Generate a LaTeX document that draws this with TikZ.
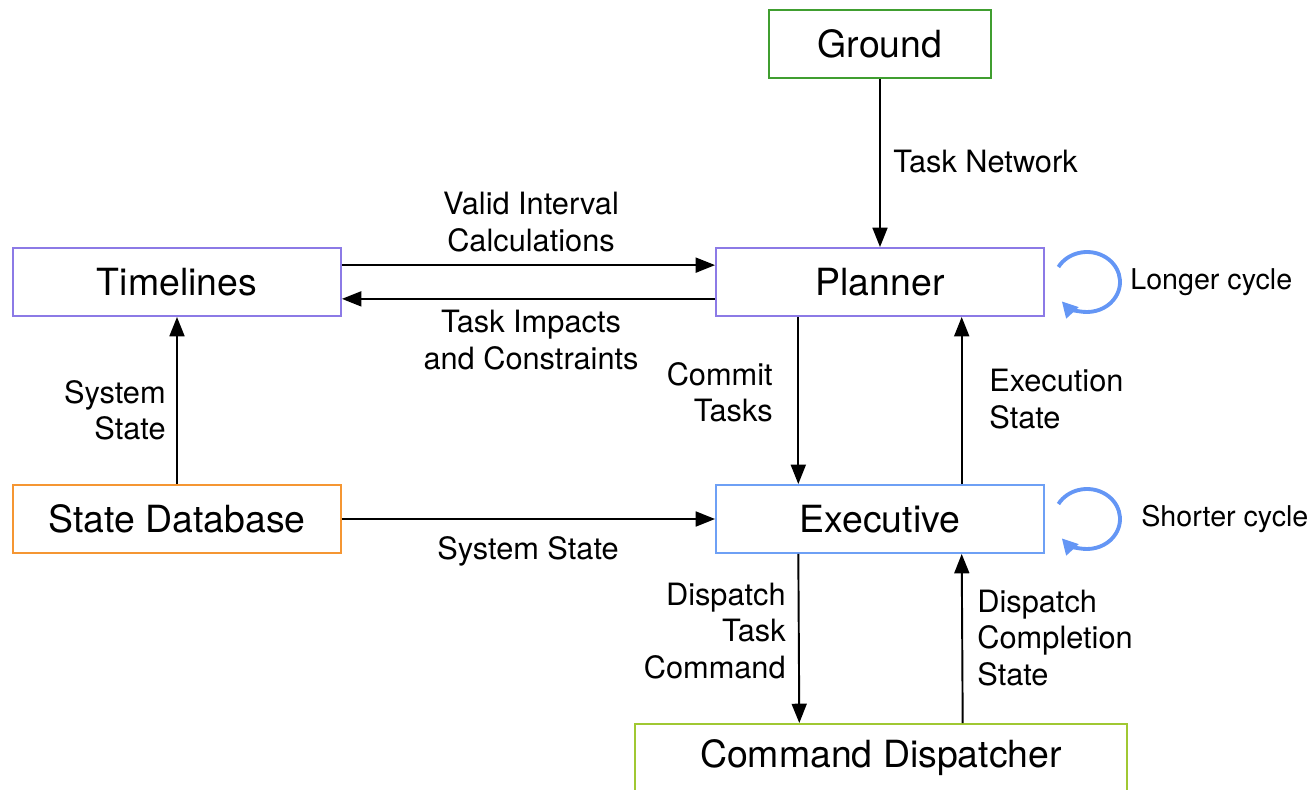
\documentclass[tikz,border=0pt]{standalone}
\usepackage{fontspec}
\setmainfont{TeX Gyre Heros}
\usetikzlibrary{arrows.meta}
\definecolor{grC}{RGB}{64,158,48}
\definecolor{puC}{RGB}{140,122,230}
\definecolor{orC}{RGB}{245,150,50}
\definecolor{blC}{RGB}{110,160,245}
\definecolor{ygC}{RGB}{160,200,50}
\definecolor{cyC}{RGB}{100,150,245}
\begin{document}
\begin{tikzpicture}[x=0.02cm, y=0.02cm,
    box/.style={draw, line width=1.1pt, minimum height=1.36cm, inner sep=0pt, font=\fontsize{21.3}{25}\selectfont},
    lbl/.style={inner sep=0pt, font=\fontsize{17.5}{20.6}\selectfont},
    link/.style={line width=1.1pt, -{Triangle[length=11pt,width=8.5pt]}},
    cyc/.style={cyC, line width=2.2pt, -{Triangle[length=9pt,width=9pt]}}]
\clip (0,0) rectangle (1314,789);
\foreach \n/\x/\y/\w/\c/\t in {gr/880/745/222/grC/Ground, tl/177/507/328/puC/Timelines, pl/880/507/328/puC/Planner, db/177/270/328/orC/State Database, ex/880/270/328/blC/Executive, cd/881/31/492/ygC/Command Dispatcher}
{
    \node[box, draw=\c, minimum width=\w*0.02cm] (\n) at (\x,\y) {\t};
}

\draw[link] (gr) -- (pl);
\draw[link] ([yshift=9.6pt]tl.east) -- ([yshift=9.6pt]pl.west);
\draw[link] ([yshift=-9.6pt]pl.west) -- ([yshift=-9.6pt]tl.east);
\draw[link] (db) -- (tl);
\draw[link] (db) -- (ex);
\draw[link] ([xshift=-46.5pt]pl.south) -- ([xshift=-46.5pt]ex.north);
\draw[link] ([xshift=46.5pt]ex.north) -- ([xshift=46.5pt]pl.south);
\draw[link] ([xshift=-46.5pt]ex.south) -- ([xshift=-46.5pt]cd.north);
\draw[link] ([xshift=46.5pt]cd.north) -- ([xshift=46.5pt]ex.south);

\node[lbl, anchor=west] (tn) at (893,627) {Task Network};
\node[lbl, align=center] (vi) at (531,567) {Valid Interval\\Calculations};
\node[lbl, align=center] (ti) at (531,449) {Task Impacts\\and Constraints};
\node[lbl, align=right, anchor=east] (ss1) at (166,379) {System\\State};
\node[lbl] (ss2) at (528,238) {System State};
\node[lbl, align=right, anchor=east] (ct) at (773,397) {Commit\\Tasks};
\node[lbl, align=left, anchor=west] (es) at (989,390) {Execution\\State};
\node[lbl, align=right, anchor=east] (dt) at (786,158) {Dispatch\\Task\\Command};
\node[lbl, align=left, anchor=west] (dc) at (977,151) {Dispatch\\Completion\\State};
\node[lbl, anchor=west, font=\fontsize{16.3}{19}\selectfont] (lc) at (1130,507) {Longer cycle};
\node[lbl, anchor=west, font=\fontsize{16.3}{19}\selectfont] (sc) at (1141,270) {Shorter cycle};

\foreach \y in {507,270}
{
    \coordinate (c\y) at (1087,\y);
    \draw[cyc] ([shift={(150:0.66cm and 0.6cm)}]c\y) arc[start angle=150, end angle=-140, x radius=0.66cm, y radius=0.6cm];
}
\end{tikzpicture}
\end{document}
